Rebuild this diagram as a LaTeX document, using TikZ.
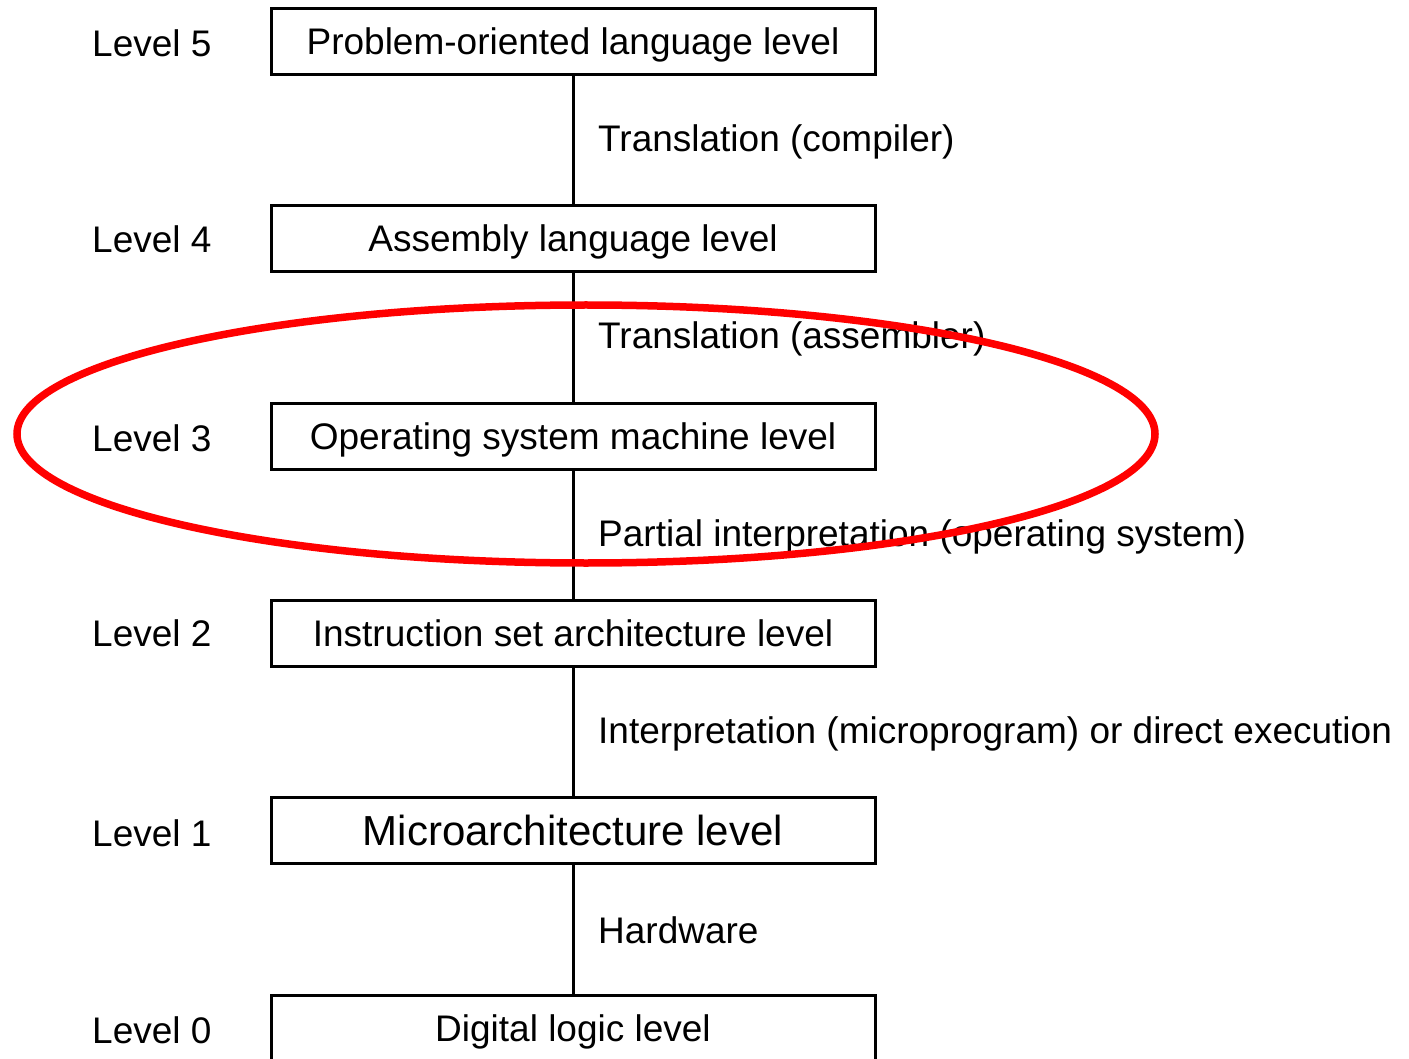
\documentclass[tikz,border=0pt]{standalone}
\usepackage{fontspec}
\setmainfont{Liberation Sans}
\begin{document}
\begin{tikzpicture}[x=1pt,y=-1pt,
  levelbox/.style={draw=black,line width=3pt,minimum width=604pt,minimum height=66pt,inner sep=0pt,
    text height=26pt,text depth=0pt,font=\fontsize{37}{44}\selectfont},
  levellabel/.style={anchor=west,inner sep=0pt,font=\fontsize{37}{44}\selectfont},
  translabel/.style={anchor=west,inner sep=0pt,font=\fontsize{37}{44}\selectfont},
  conn/.style={draw=black,line width=3pt},
  highlight/.style={draw={rgb,255:red,255;green,0;blue,0},line width=7.5pt}]
\useasboundingbox (0,0) rectangle (1409,1059);
\fill[white] (0,0) rectangle (1409,1059);
\node[levelbox] (b5) at (573,41.5) {Problem-oriented language level};
\node[levelbox] (b4) at (573,239) {Assembly language level};
\node[levelbox] (b3) at (573,436) {Operating system machine level};
\node[levelbox] (b2) at (573,633.5) {Instruction set architecture level};
\node[levelbox,font=\fontsize{42}{48}\selectfont,text height=30pt] (b1) at (573,830) {Microarchitecture level};
\node[levelbox] (b0) at (573,1028) {Digital logic level};
\node[levellabel] (l5) at (92,43) {Level 5};
\node[levellabel] (l4) at (92,239) {Level 4};
\node[levellabel] (l3) at (92,438) {Level 3};
\node[levellabel] (l2) at (92,633) {Level 2};
\node[levellabel] (l1) at (92,833) {Level 1};
\node[levellabel] (l0) at (92,1030) {Level 0};
\draw[conn] (b5) -- (b4);
\draw[conn] (b4) -- (b3);
\draw[conn] (b3) -- (b2);
\draw[conn] (b2) -- (b1);
\draw[conn] (b1) -- (b0);
\node[translabel] (t54) at (598,142) {Translation (compiler)};
\node[translabel] (t43) at (598,339) {Translation (assembler)};
\node[translabel] (t32) at (598,537) {Partial interpretation (operating system)};
\node[translabel] (t21) at (598,734) {Interpretation (microprogram) or direct execution};
\node[translabel] (t10) at (598,930) {Hardware};
\draw[highlight] (586,434) ellipse [x radius=569pt, y radius=129pt];
\end{tikzpicture}
\end{document}
